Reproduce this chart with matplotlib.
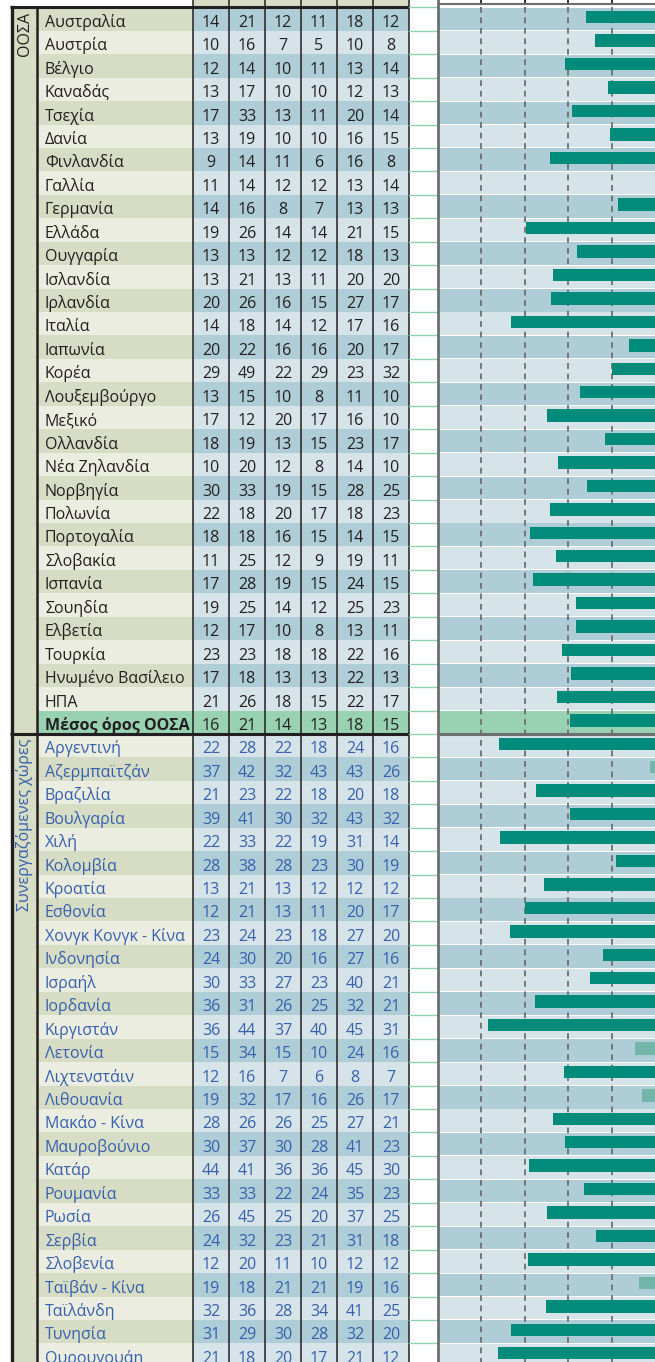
import numpy as np
import matplotlib
matplotlib.use('Agg')
import matplotlib.pyplot as plt
from matplotlib.patches import Rectangle

plt.rcParams['font.family'] = ['Open Sans', 'DejaVu Sans']

# --- data -------------------------------------------------------------
oecd_names = ['Αυστραλία', 'Αυστρία', 'Βέλγιο', 'Καναδάς', 'Τσεχία', 'Δανία',
              'Φινλανδία', 'Γαλλία', 'Γερμανία', 'Ελλάδα', 'Ουγγαρία', 'Ισλανδία',
              'Ιρλανδία', 'Ιταλία', 'Ιαπωνία', 'Κορέα', 'Λουξεμβούργο', 'Μεξικό',
              'Ολλανδία', 'Νέα Ζηλανδία', 'Νορβηγία', 'Πολωνία', 'Πορτογαλία',
              'Σλοβακία', 'Ισπανία', 'Σουηδία', 'Ελβετία', 'Τουρκία',
              'Ηνωμένο Βασίλειο', 'ΗΠΑ']
avg_name = 'Μέσος όρος ΟΟΣΑ'
partner_names = ['Αργεντινή', 'Αζερμπαϊτζάν', 'Βραζιλία', 'Βουλγαρία', 'Χιλή',
                 'Κολομβία', 'Κροατία', 'Εσθονία', 'Χονγκ Κονγκ - Κίνα', 'Ινδονησία',
                 'Ισραήλ', 'Ιορδανία', 'Κιργιστάν', 'Λετονία', 'Λιχτενστάιν',
                 'Λιθουανία', 'Μακάο - Κίνα', 'Μαυροβούνιο', 'Κατάρ', 'Ρουμανία',
                 'Ρωσία', 'Σερβία', 'Σλοβενία', 'Ταϊβάν - Κίνα', 'Ταϊλάνδη',
                 'Τυνησία', 'Ουρουγουάη']

oecd_values = [
    [14, 21, 12, 11, 18, 12], [10, 16, 7, 5, 10, 8], [12, 14, 10, 11, 13, 14],
    [13, 17, 10, 10, 12, 13], [17, 33, 13, 11, 20, 14], [13, 19, 10, 10, 16, 15],
    [9, 14, 11, 6, 16, 8], [11, 14, 12, 12, 13, 14], [14, 16, 8, 7, 13, 13],
    [19, 26, 14, 14, 21, 15], [13, 13, 12, 12, 18, 13], [13, 21, 13, 11, 20, 20],
    [20, 26, 16, 15, 27, 17], [14, 18, 14, 12, 17, 16], [20, 22, 16, 16, 20, 17],
    [29, 49, 22, 29, 23, 32], [13, 15, 10, 8, 11, 10], [17, 12, 20, 17, 16, 10],
    [18, 19, 13, 15, 23, 17], [10, 20, 12, 8, 14, 10], [30, 33, 19, 15, 28, 25],
    [22, 18, 20, 17, 18, 23], [18, 18, 16, 15, 14, 15], [11, 25, 12, 9, 19, 11],
    [17, 28, 19, 15, 24, 15], [19, 25, 14, 12, 25, 23], [12, 17, 10, 8, 13, 11],
    [23, 23, 18, 18, 22, 16], [17, 18, 13, 13, 22, 13], [21, 26, 18, 15, 22, 17],
]
avg_values = [16, 21, 14, 13, 18, 15]
partner_values = [
    [22, 28, 22, 18, 24, 16], [37, 42, 32, 43, 43, 26], [21, 23, 22, 18, 20, 18],
    [39, 41, 30, 32, 43, 32], [22, 33, 22, 19, 31, 14], [28, 38, 28, 23, 30, 19],
    [13, 21, 13, 12, 12, 12], [12, 21, 13, 11, 20, 17], [23, 24, 23, 18, 27, 20],
    [24, 30, 20, 16, 27, 16], [30, 33, 27, 23, 40, 21], [36, 31, 26, 25, 32, 21],
    [36, 44, 37, 40, 45, 31], [15, 34, 15, 10, 24, 16], [12, 16, 7, 6, 8, 7],
    [19, 32, 17, 16, 26, 17], [28, 26, 26, 25, 27, 21], [30, 37, 30, 28, 41, 23],
    [44, 41, 36, 36, 45, 30], [33, 33, 22, 24, 35, 23], [26, 45, 25, 20, 37, 25],
    [24, 32, 23, 21, 31, 18], [12, 20, 11, 10, 12, 12], [19, 18, 21, 21, 19, 16],
    [32, 36, 28, 34, 41, 25], [31, 29, 30, 28, 32, 20], [21, 18, 20, 17, 21, 12],
]

# bar lengths
oecd_bars = [15.8, 13.8, 20.7, 10.8, 19.1, 10.3, 24.2, 0, 8.5, 29.7, 17.9, 23.5,
             23.9, 33.2, 5.9, 9.8, 17.2, 24.8, 11.5, 22.3, 15.6, 24.2, 28.8, 22.8,
             28.1, 18.2, 18.2, 21.4, 19.3, 22.5]
avg_bar = 19.5
partner_bars = [35.9, 1.1, 27.4, 19.5, 35.7, 8.9, 25.5, 29.9, 33.4, 11.9, 14.9,
                27.6, 38.5, 4.5, 20.9, 2.9, 23.5, 20.7, 29.0, 16.3, 24.8, 13.5,
                29.2, 3.6, 25.1, 33.2, 36.2]
# False = pale bar (not significant)
partner_signif = [True, False, True, True, True, True, True, True, True, True, True,
                  True, True, False, True, False, True, True, True, True, True, True,
                  True, False, True, True, True]

names = oecd_names + [avg_name] + partner_names
values = oecd_values + [avg_values] + partner_values
bars = oecd_bars + [avg_bar] + partner_bars
signif = [True] * (len(oecd_bars) + 1) + partner_signif
n = len(names)
avg_idx = len(oecd_names)

# --- colours ------------------------------------------------------------
lab_dark, lab_light = '#d7dcc4', '#ebede1'
num_dark, num_light = '#afcdd6', '#d6e3e9'
green = '#98d2b3'
bar_col, bar_pale = '#008b7a', '#74b5a9'
blue = '#3660ae'
black = '#231f20'
grey = '#6d6e70'

# --- layout (pixels) ----------------------------------------------------
W, H = 655, 1362
ROW_H = 23.44
TOP = 7.3


def px_to_row(p):
    return (p - TOP) / ROW_H - 0.5


y_top = px_to_row(0)
y_bot = px_to_row(H)
col_edges = [193, 229, 265, 301, 337, 373, 409]
col_mid = [(a + b) / 2 for a, b in zip(col_edges[:-1], col_edges[1:])]

fig = plt.figure(figsize=(W / 100, H / 100), dpi=100)
ax = fig.add_axes([0, 0, 1, 1])
ax.set_xlim(0, W)
ax.set_ylim(y_bot, y_top)
ax.axis('off')

# group column + header
ax.add_patch(Rectangle((12, -0.5), 25, y_bot + 0.5, fc=lab_dark, lw=0))
ax.add_patch(Rectangle((193, y_top), 216, -0.5 - y_top, fc=lab_dark, lw=0))

for i in range(n):
    if i == avg_idx:
        lc, nc = green, green
    elif i % 2 == 0:
        lc, nc = lab_dark, num_dark
    else:
        lc, nc = lab_light, num_light
    ax.add_patch(Rectangle((37, i - 0.5), 156, 1, fc=lc, lw=0))
    ax.add_patch(Rectangle((193, i - 0.5), 216, 1, fc=nc, lw=0))

    tc = black if i <= avg_idx else blue
    ax.text(45, i + 0.33, names[i], fontsize=11.5, color=tc, va='baseline',
            ha='left', fontweight='bold' if i == avg_idx else 'normal')
    for x, v in zip(col_mid, values[i]):
        ax.text(x, i + 0.33, str(v), fontsize=11.5, color=tc, va='baseline',
                ha='center')

# table lines
ax.plot([10, 409], [-0.5, -0.5], color=black, lw=2.2, solid_capstyle='butt')
ax.plot([10, 409], [avg_idx + 0.5] * 2, color=black, lw=2.2, solid_capstyle='butt')
ax.plot([11.5, 11.5], [-0.5, y_bot], color=black, lw=2.4)
ax.plot([37, 37], [-0.5, y_bot], color=black, lw=1.8)
for x in col_edges:
    ax.plot([x, x], [y_top, y_bot], color=black, lw=1.1)
for b in np.arange(-0.5, n + 0.5):
    ax.plot([409, 438], [b, b], color='#8fd0b0', lw=1)

ax.text(25, px_to_row(12), 'ΟΟΣΑ', rotation=90, ha='center', va='top',
        fontsize=11.5, color=black)
ax.text(25, px_to_row(739), 'Συνεργαζόμενες χώρες', rotation=90, ha='center',
        va='top', fontsize=11.5, color=blue)

# --- bar panel --------------------------------------------------------------
bx = fig.add_axes([438 / W, 0, (W - 438) / W, 1])
bx.set_xlim(50, 0)
bx.set_ylim(y_bot, y_top)
bx.set_xticks([])
bx.set_yticks([])
for s in ['top', 'right', 'bottom']:
    bx.spines[s].set_visible(False)
bx.spines['left'].set_color(grey)
bx.spines['left'].set_linewidth(2)

for i in range(n):
    if i == avg_idx:
        c = green
    elif i % 2 == 0:
        c = num_dark
    else:
        c = num_light
    bx.axhspan(i - 0.48, i + 0.48, color=c, lw=0, zorder=0)

for g in [10, 20, 30, 40]:
    bx.plot([g, g], [-0.5, y_bot], color=grey, lw=1.3, dashes=(3.2, 2.6), zorder=1)
    bx.plot([g, g], [y_top, px_to_row(4)], color=black, lw=1.3, zorder=1)
bx.axhline(px_to_row(4), color=grey, lw=1.5, zorder=1)
bx.axhline(avg_idx + 0.5, color=grey, lw=2.2, zorder=3)

bx.barh(np.arange(n) - 0.08, bars, height=0.53,
        color=[bar_col if s else bar_pale for s in signif], lw=0, zorder=2)

fig.savefig('out.png', dpi=100)
